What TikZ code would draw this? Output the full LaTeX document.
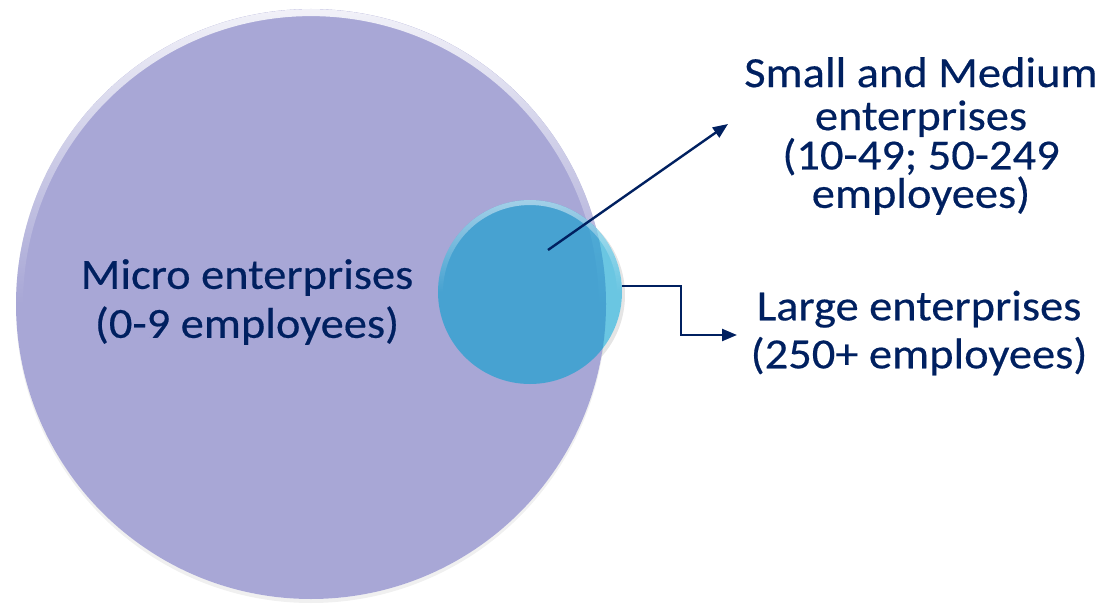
\documentclass[tikz,border=0pt]{standalone}
\usepackage{fontspec}
\setmainfont{Carlito}[FakeStretch=1.08,FakeBold=0.4]
\usetikzlibrary{arrows.meta,fadings,calc}
\definecolor{navy}{HTML}{002060}
\definecolor{lav}{HTML}{A8A7D6}
\definecolor{sky}{RGB}{7,160,207}
% rim highlight: opaque at the very top, gone before mid-height
\tikzfading[name=toprim,
  top color=transparent!0,
  bottom color=transparent!100,
  middle color=transparent!100]
\begin{document}
\begin{tikzpicture}[x=1pt,y=-1pt,
  disc/.style={circle,inner sep=0pt,draw=none},
  lbl/.style={inner sep=0pt,align=center,text=navy},
  link/.style={draw=navy,line width=2.4pt,-{Triangle[length=15pt,width=12pt]}}]
\useasboundingbox (0,0) rectangle (1109,607);

% soft shadows below the two discs
\fill[black,opacity=0.06,even odd rule] (311,308) circle (295) (311,304) circle (295);
\fill[black,opacity=0.10,even odd rule] (532,295) circle (93) (530,292) circle (92);

% micro enterprises disc with a glossy upper rim
\node[disc,minimum size=590pt,fill=lav] (micro) at (311,304) {};
\fill[white,opacity=0.85,path fading=toprim,even odd rule]
  (micro.center) circle (295) (micro.center) circle (288);

% small and medium disc, translucent
\node[disc,minimum size=184pt,fill=sky,fill opacity=0.6] (sme) at (530,292) {};
\fill[white,opacity=0.5,path fading=toprim,even odd rule]
  (sme.center) circle (92) (sme.center) circle (87);

% labels
\node[lbl,font=\fontsize{43}{49}\selectfont] (microtext) at (247,302)
  {Micro enterprises\\(0-9 employees)};
\node[lbl,font=\fontsize{43}{37}\selectfont] (smetext) at (921,136)
  {Small and Medium\\[6pt]enterprises\\(10-49; 50-249\\employees)};
\node[lbl,font=\fontsize{43}{48}\selectfont] (largetext) at (919,333)
  {Large enterprises\\(250+ employees)};

% connectors
\coordinate (smefrom) at (548,250);
\coordinate (smeto) at (728,124);
\coordinate (largefrom) at (622,286);
\coordinate (largeto) at (737,335);
\draw[link] (smefrom) -- (smeto);
\draw[link] (largefrom) -- (681,286) |- (largeto);
\end{tikzpicture}
\end{document}
